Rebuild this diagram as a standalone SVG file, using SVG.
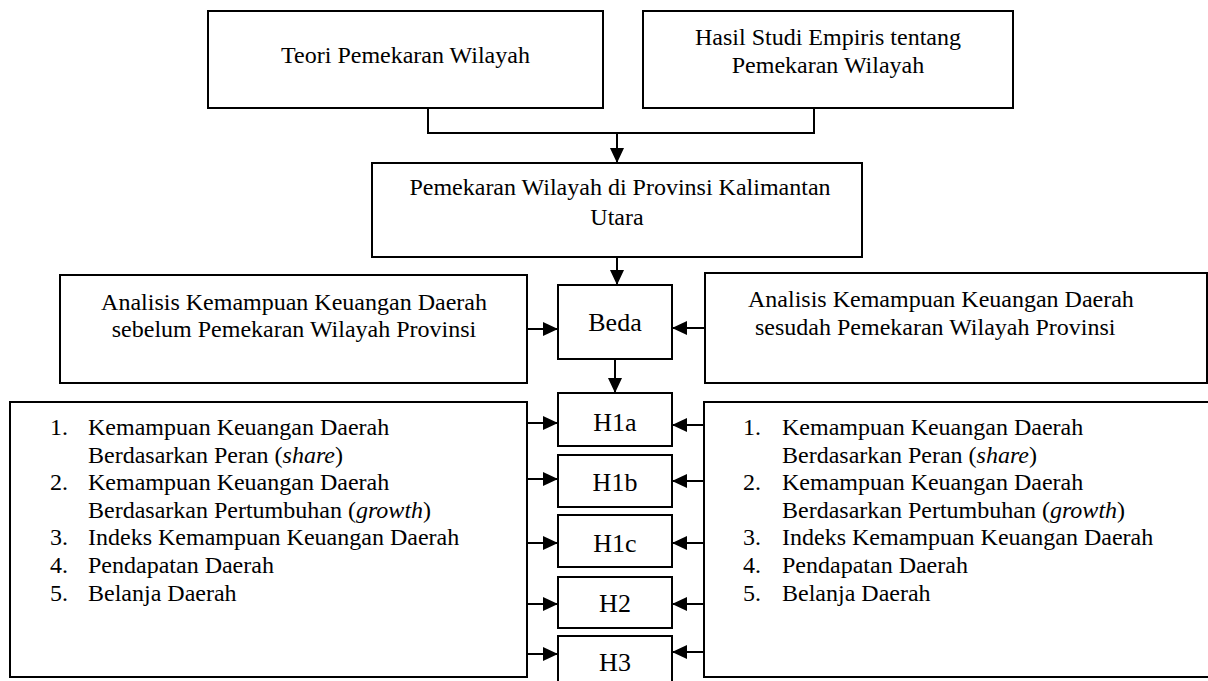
<svg xmlns="http://www.w3.org/2000/svg" width="1208" height="681" viewBox="0 0 1208 681">
<style>
.box{fill:#fff;stroke:#000;stroke-width:2}
.t{font-family:"Liberation Serif","Times New Roman",serif;font-size:24px;fill:#000}
.c{text-anchor:middle}
.h{font-family:"Liberation Serif","Times New Roman",serif;font-size:26px;fill:#000;text-anchor:middle}
.ln{fill:none;stroke:#000;stroke-width:2}
</style>
<defs>
<marker id="ah" viewBox="0 0 15 14" refX="15" refY="7" markerWidth="15" markerHeight="14" markerUnits="userSpaceOnUse" orient="auto">
<path d="M0,0 L15,7 L0,14 Z" fill="#000"/>
</marker>
</defs>
<rect width="1208" height="681" fill="#fff"/>
<g id="teori"><rect class="box" x="208" y="11" width="395" height="97"/><text class="t c" x="405.5" y="63">Teori Pemekaran Wilayah</text></g>
<g id="hasil"><rect class="box" x="643" y="11" width="370" height="97"/><text class="t c" x="828" y="45">Hasil Studi Empiris tentang</text><text class="t c" x="828" y="73">Pemekaran Wilayah</text></g>
<g id="pemekaran"><rect class="box" x="372" y="163" width="490" height="94"/><text class="t c" x="620" y="195">Pemekaran Wilayah di Provinsi Kalimantan</text><text class="t c" x="617" y="225">Utara</text></g>
<g id="sebelum"><rect class="box" x="60" y="275" width="467" height="108"/><text class="t c" x="294" y="310">Analisis Kemampuan Keuangan Daerah</text><text class="t c" x="294" y="337">sebelum Pemekaran Wilayah Provinsi</text></g>
<g id="beda"><rect class="box" x="558" y="285" width="114" height="74"/><text class="h" x="615" y="331">Beda</text></g>
<g id="sesudah"><rect class="box" x="705" y="273" width="502" height="110"/><text class="t" x="748" y="307">Analisis Kemampuan Keuangan Daerah</text><text class="t" x="755" y="335">sesudah Pemekaran Wilayah Provinsi</text></g>
<g id="list-left"><rect class="box" x="10" y="402" width="517" height="275"/>
<text class="t" x="50" y="435">1.</text><text class="t" x="88" y="435">Kemampuan Keuangan Daerah</text>
<text class="t" x="88" y="463">Berdasarkan Peran (<tspan font-style="italic">share</tspan>)</text>
<text class="t" x="50" y="490">2.</text><text class="t" x="88" y="490">Kemampuan Keuangan Daerah</text>
<text class="t" x="88" y="518">Berdasarkan Pertumbuhan (<tspan font-style="italic">growth</tspan>)</text>
<text class="t" x="50" y="545">3.</text><text class="t" x="88" y="545">Indeks Kemampuan Keuangan Daerah</text>
<text class="t" x="50" y="573">4.</text><text class="t" x="88" y="573">Pendapatan Daerah</text>
<text class="t" x="50" y="601">5.</text><text class="t" x="88" y="601">Belanja Daerah</text>
</g>
<g id="list-right"><rect class="box" x="704" y="402" width="510" height="275"/>
<text class="t" x="743" y="435">1.</text><text class="t" x="782" y="435">Kemampuan Keuangan Daerah</text>
<text class="t" x="782" y="463">Berdasarkan Peran (<tspan font-style="italic">share</tspan>)</text>
<text class="t" x="743" y="490">2.</text><text class="t" x="782" y="490">Kemampuan Keuangan Daerah</text>
<text class="t" x="782" y="518">Berdasarkan Pertumbuhan (<tspan font-style="italic">growth</tspan>)</text>
<text class="t" x="743" y="545">3.</text><text class="t" x="782" y="545">Indeks Kemampuan Keuangan Daerah</text>
<text class="t" x="743" y="573">4.</text><text class="t" x="782" y="573">Pendapatan Daerah</text>
<text class="t" x="743" y="601">5.</text><text class="t" x="782" y="601">Belanja Daerah</text>
</g>
<g id="h1a"><rect class="box" x="558" y="393" width="114" height="53"/><text class="h" x="615" y="431">H1a</text></g>
<g id="h1b"><rect class="box" x="558" y="455" width="114" height="52"/><text class="h" x="615" y="491">H1b</text></g>
<g id="h1c"><rect class="box" x="558" y="515" width="114" height="52"/><text class="h" x="615" y="552">H1c</text></g>
<g id="h2"><rect class="box" x="558" y="577" width="114" height="51"/><text class="h" x="615" y="612">H2</text></g>
<g id="h3"><rect class="box" x="558" y="636" width="114" height="52"/><text class="h" x="615" y="671">H3</text></g>
<g id="connectors">
<path class="ln" d="M428,108 V133 H814 V108"/>
<path class="ln" d="M617,133 V163" marker-end="url(#ah)"/>
<path class="ln" d="M617,257 V285" marker-end="url(#ah)"/>
<path class="ln" d="M527,329 H558" marker-end="url(#ah)"/>
<path class="ln" d="M705,328 H672" marker-end="url(#ah)"/>
<path class="ln" d="M615,359 V393" marker-end="url(#ah)"/>
<path class="ln" d="M527,423 H558" marker-end="url(#ah)"/>
<path class="ln" d="M527,479 H558" marker-end="url(#ah)"/>
<path class="ln" d="M527,543 H558" marker-end="url(#ah)"/>
<path class="ln" d="M527,604 H558" marker-end="url(#ah)"/>
<path class="ln" d="M527,654 H558" marker-end="url(#ah)"/>
<path class="ln" d="M704,425 H672" marker-end="url(#ah)"/>
<path class="ln" d="M704,481 H672" marker-end="url(#ah)"/>
<path class="ln" d="M704,543 H672" marker-end="url(#ah)"/>
<path class="ln" d="M704,604 H672" marker-end="url(#ah)"/>
<path class="ln" d="M704,652 H672" marker-end="url(#ah)"/>
</g>
</svg>
